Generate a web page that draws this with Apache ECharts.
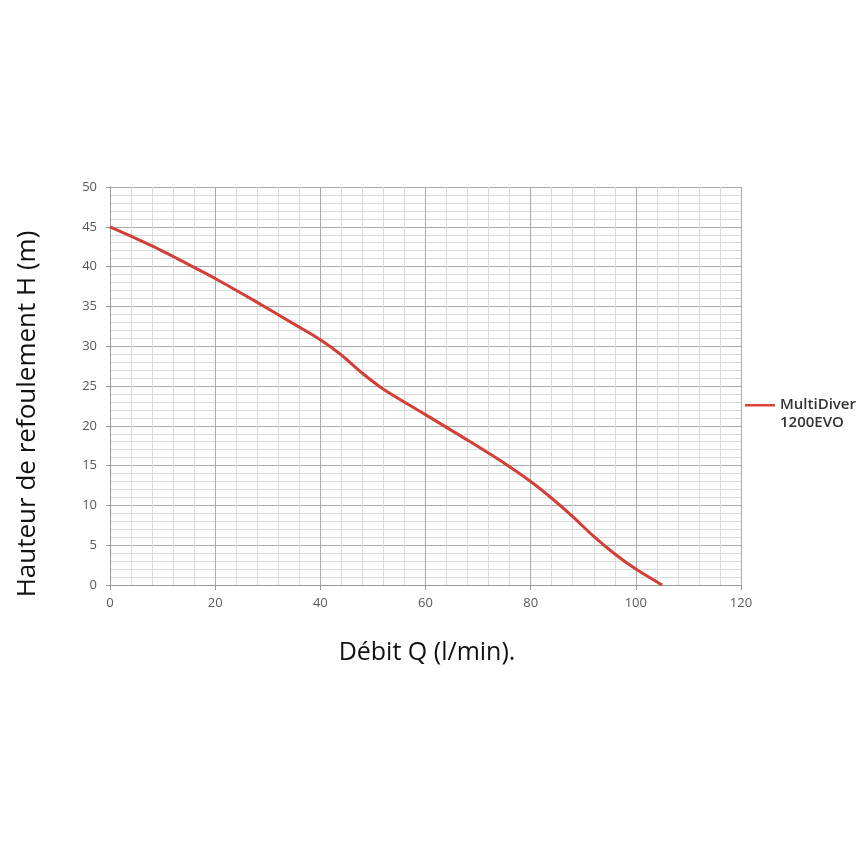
<!DOCTYPE html>
<html><head><meta charset="utf-8">
<script src="https://cdn.jsdelivr.net/npm/echarts@6/dist/echarts.min.js"></script>
<style>html,body{margin:0;padding:0;background:#fff}#c{width:865px;height:865px}</style>
</head><body><div id="c"></div>
<script>
const flow = [0, 8, 16, 20, 28, 36, 40, 44, 48, 52, 60, 68, 75, 80, 84, 88, 92, 96, 100, 105];
const head = [45, 42.6, 39.9, 38.5, 35.5, 32.4, 30.8, 28.9, 26.6, 24.6, 21.4, 18.2, 15.3, 13.0, 10.9, 8.6, 6.1, 3.9, 2.0, 0];
const seriesName = 'MultiDiver 1200EVO';
const legendLabel = 'MultiDiver\n1200EVO';
const xTitle = 'Débit Q (l/min).';
const yTitle = 'Hauteur de refoulement H (m)';
const xTicks = [0, 20, 40, 60, 80, 100, 120];
const yTicks = [0, 5, 10, 15, 20, 25, 30, 35, 40, 45, 50];

const chart = echarts.init(document.getElementById('c'));
chart.setOption({
  animation: false,
  backgroundColor: '#fff',
  grid: {left: 110, right: 124, top: 187, bottom: 280},
  legend: {
    show: true, orient: 'vertical', left: 745, top: 396, padding: 0,
    itemWidth: 30, itemHeight: 20, itemGap: 5,
    icon: 'path://M0,0L30,0L30,2.5L0,2.5Z M0,20L0.01,20L0,20Z',
    data: [seriesName],
    formatter: () => legendLabel,
    textStyle: {fontFamily: 'Open Sans', fontSize: 15, fontWeight: 600, color: '#333', lineHeight: 18}
  },
  graphic: [
    {type: 'text', x: 28, y: 414, rotation: Math.PI / 2,
     style: {text: yTitle, fontFamily: 'Open Sans', fontSize: 26, fill: '#111', textAlign: 'center', textVerticalAlign: 'middle'}},
    {type: 'text', x: 427, y: 653,
     style: {text: xTitle, fontFamily: 'Open Sans', fontSize: 25, fill: '#111', textAlign: 'center', textVerticalAlign: 'middle'}}
  ],
  xAxis: {
    type: 'value', min: xTicks[0], max: xTicks[xTicks.length-1], interval: 20,
    axisLine: {show: true, lineStyle: {color: '#999'}},
    axisTick: {show: true, length: 5, lineStyle: {color: '#999'}},
    axisLabel: {fontFamily: 'Open Sans', fontSize: 13, color: '#595959', margin: 12},
    splitLine: {show: true, lineStyle: {color: '#aaa', width: 1}},
    minorTick: {show: false, splitNumber: 5},
    minorSplitLine: {show: true, lineStyle: {color: '#dadada', width: 1}}
  },
  yAxis: {
    type: 'value', min: yTicks[0], max: yTicks[yTicks.length-1], interval: 5,
    axisLine: {show: true, lineStyle: {color: '#999'}},
    axisTick: {show: true, length: 4, lineStyle: {color: '#999'}},
    axisLabel: {fontFamily: 'Open Sans', fontSize: 13, color: '#595959', margin: 13},
    splitLine: {show: true, lineStyle: {color: '#aaa', width: 1}},
    minorTick: {show: false, splitNumber: 5},
    minorSplitLine: {show: true, lineStyle: {color: '#dadada', width: 1}}
  },
  series: [{
    name: seriesName, type: 'line', smooth: 0.3, symbol: 'none',
    data: flow.map((q, i) => [q, head[i]]),
    lineStyle: {color: '#d23f36', width: 3},
    itemStyle: {color: '#d9453d'}
  }]
});
</script></body></html>
